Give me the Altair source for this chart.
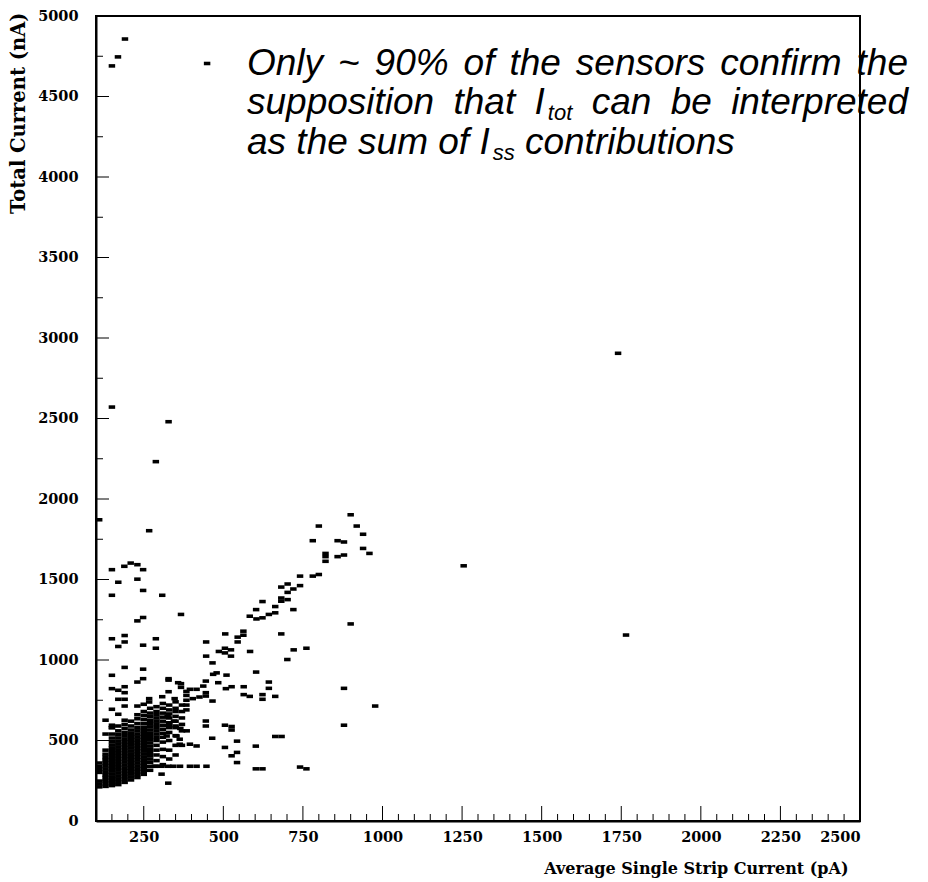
import altair as alt
import pandas as pd

# ---------------- data (Average single strip current [pA], total current [nA]) ----------------
top_x = [150, 169, 191, 449]
top_y = [4690, 4746, 4857, 4705]

single_x = [150, 328, 288, 110, 267, 1740, 1765, 1255, 900, 977, 879, 879]
single_y = [2571, 2480, 2232, 1871, 1803, 2905, 1155, 1585, 1224, 714, 824, 595]

left_x = [150, 189, 209, 230, 248, 170, 230, 248, 150, 308, 367, 230, 248, 190, 150, 288, 190, 170,
          248, 288, 190, 248, 150, 328, 248, 230, 328, 367, 150, 170, 190, 190]
left_y = [1561, 1582, 1602, 1592, 1561, 1483, 1502, 1432, 1402, 1402, 1283, 1243, 1264, 1152, 1132, 1132,
          1112, 1084, 1092, 1073, 954, 943, 905, 884, 884, 863, 875, 853, 822, 812, 834, 797]

arm_x = [446, 486, 505, 505, 524, 524, 446, 466, 506, 545, 545, 563, 563, 584, 603, 721, 761, 701, 682,
         583, 603, 623, 604, 623, 643, 663, 663, 682, 682, 682, 702, 702, 702, 720, 720,
         741, 741, 781, 800, 781, 800, 821, 821, 821, 859, 859, 879, 879, 900, 919, 939, 939, 959]
arm_y = [1112, 1053, 1073, 1044, 1063, 1024, 1024, 982, 1162, 1142, 1112, 1179, 1154, 1053, 925, 1063,
         1073, 1003, 1162, 1272, 1313, 1363, 1255, 1262, 1283, 1293, 1332, 1365, 1385, 1453, 1472, 1420,
         1375, 1441, 1313, 1521, 1462, 1521, 1531, 1741, 1832, 1662, 1642, 1613, 1741, 1642, 1733, 1652,
         1902, 1832, 1781, 1693, 1662]

mid_x = [479, 510, 445, 484, 508, 526, 564, 643, 643, 564, 583, 623, 623, 663, 358, 395, 416, 437, 468,
         384, 384, 384, 384, 384, 445, 445, 466, 404, 425, 445, 445, 505, 505, 465, 526, 526, 663, 683,
         543, 602, 543, 526, 543, 602, 623, 741, 761, 285, 306, 327, 343, 364, 395, 416, 447, 306, 327,
         395, 416, 363, 363, 353, 322, 330, 350, 365, 385, 345, 325]
mid_y = [920, 906, 869, 859, 822, 834, 834, 863, 824, 785, 774, 785, 756, 774, 859, 818, 818, 838, 911,
         690, 720, 750, 780, 805, 797, 776, 745, 760, 770, 621, 590, 595, 457, 514, 587, 565, 525, 525,
         496, 465, 426, 405, 363, 324, 324, 335, 324, 340, 340, 340, 340, 340, 340, 340, 340, 291, 235,
         477, 466, 477, 508, 528, 528, 600, 590, 575, 560, 620, 650]

lowleft_x = [170, 190, 150, 170, 190, 230, 250, 267, 267, 308, 328, 347, 367, 130, 190, 150, 150, 130]
lowleft_y = [756, 756, 694, 663, 714, 714, 725, 760, 739, 772, 803, 760, 830, 626, 626, 595, 580, 540]

# dense core of the distribution, column by column
core_cols = {
    110: [212, 230, 248, 302, 320, 338, 360],
    130: [215, 233, 251, 269, 287, 305, 323, 341, 359, 377, 395, 415, 440],
    150: [220, 238, 256, 274, 292, 310, 328, 346, 364, 382, 400, 418, 436, 454, 472, 492, 515, 540, 580],
    170: [226, 244, 262, 280, 298, 316, 334, 352, 370, 388, 406, 424, 442, 460, 478, 496, 516, 538,
          560, 590],
    190: [240, 258, 276, 294, 312, 330, 348, 366, 384, 402, 420, 438, 456, 474, 492, 510, 530, 550,
          575, 600],
    210: [255, 273, 291, 309, 327, 345, 363, 381, 399, 417, 435, 453, 471, 489, 507, 525, 545, 565,
          590, 620],
    230: [270, 288, 306, 324, 342, 360, 378, 396, 414, 432, 450, 468, 486, 504, 522, 540, 560, 580,
          605, 635, 660],
    250: [290, 308, 326, 344, 362, 380, 398, 416, 434, 452, 470, 488, 506, 524, 542, 562, 582, 605,
          630, 655, 680],
    270: [315, 340, 365, 385, 405, 425, 445, 465, 485, 505, 525, 545, 565, 585, 605, 625, 648, 670, 700],
    290: [340, 375, 410, 440, 470, 500, 520, 540, 560, 580, 600, 620, 640, 660, 680, 710],
    310: [350, 400, 445, 490, 520, 545, 570, 595, 620, 645, 670, 700, 730],
    330: [385, 440, 500, 550, 580, 610, 640, 665, 690, 720],
    350: [410, 470, 530, 580, 620, 650, 680, 700, 740],
    370: [470, 560, 600, 640, 680, 720],
}

x_ticks_major = [250, 500, 750, 1000, 1250, 1500, 1750, 2000, 2250, 2500]
y_ticks_major = [0, 500, 1000, 1500, 2000, 2500, 3000, 3500, 4000, 4500, 5000]

core_x, core_y = [], []
for cx, ys in core_cols.items():
    core_x += [cx] * len(ys)
    core_y += ys

xs = top_x + single_x + left_x + arm_x + mid_x + lowleft_x + core_x
ys = top_y + single_y + left_y + arm_y + mid_y + lowleft_y + core_y
df = pd.DataFrame({"iss": xs, "itot": ys})

# ---------------- layout ----------------
W, H = 764, 805
XMIN, XMAX = 100, 2500
YMIN, YMAX = 0, 5000

xs_scale = alt.Scale(domain=[XMIN, XMAX], nice=False, zero=False)
ys_scale = alt.Scale(domain=[YMIN, YMAX], nice=False, zero=False)

marker = "M-1,-0.55L1,-0.55L1,0.55L-1,0.55Z"

points = alt.Chart(df).mark_point(
    shape=marker, filled=True, color="black", size=42, opacity=1, strokeWidth=0
).encode(
    x=alt.X("iss:Q", scale=xs_scale,
            axis=alt.Axis(values=x_ticks_major, format="d", ticks=False, tickSize=0, grid=False,
                          domainColor="black", domainWidth=2,
                          labelFont="DejaVu Serif", labelFontWeight="bold", labelFontSize=14.5,
                          labelColor="black", labelPadding=9,
                          title="Average Single Strip Current (pA)",
                          titleFont="DejaVu Serif", titleFontWeight="bold", titleFontSize=16,
                          titleColor="black", titleAnchor="end", titleAlign="right",
                          titleX=752, titleY=47, titleBaseline="middle")),
    y=alt.Y("itot:Q", scale=ys_scale,
            axis=alt.Axis(values=y_ticks_major, format="d", ticks=False, tickSize=0, grid=False,
                          domainColor="black", domainWidth=2,
                          labelFont="DejaVu Serif", labelFontWeight="bold", labelFontSize=14.5,
                          labelColor="black", labelPadding=18,
                          title="Total Current (nA)",
                          titleFont="DejaVu Serif", titleFontWeight="bold", titleFontSize=19.5,
                          titleColor="black", titleAngle=-90, titleAlign="right",
                          titleBaseline="middle", titleX=-78, titleY=-4)),
)

# inward ticks
xmaj = pd.DataFrame({"v": x_ticks_major})
xmin = pd.DataFrame({"v": [v for v in range(150, 2500, 50) if v % 250 != 0]})
ymaj = pd.DataFrame({"v": y_ticks_major})
ymin = pd.DataFrame({"v": [v for v in range(250, 5000, 500)]})

tick_style = dict(color="black", strokeWidth=1)
xt_major = alt.Chart(xmaj).mark_rule(**tick_style).encode(
    x=alt.X("v:Q", scale=xs_scale), y=alt.value(H), y2=alt.value(H - 15))
xt_minor = alt.Chart(xmin).mark_rule(**tick_style).encode(
    x=alt.X("v:Q", scale=xs_scale), y=alt.value(H), y2=alt.value(H - 7))
yt_major = alt.Chart(ymaj).mark_rule(**tick_style).encode(
    y=alt.Y("v:Q", scale=ys_scale), x=alt.value(0), x2=alt.value(13))
yt_minor = alt.Chart(ymin).mark_rule(**tick_style).encode(
    y=alt.Y("v:Q", scale=ys_scale), x=alt.value(0), x2=alt.value(7))

# ---------------- annotation text (justified like the original slide) ----------------
AW = {' ': 278, '~': 584, '%': 889, '0': 556, '9': 556, 'O': 778, 'I': 278, 'a': 556, 'b': 556,
      'c': 500, 'd': 556, 'e': 556, 'f': 278, 'h': 556, 'i': 222, 'l': 222, 'm': 833, 'n': 556,
      'o': 556, 'p': 556, 'r': 333, 's': 500, 't': 278, 'u': 556, 'y': 500}
FS, SFS, SUB_DY, SUB_GAP = 37, 22, 6, 3


def tw(s, size):
    return sum(AW.get(c, 556) for c in s) * size / 1000


lines = [
    [[("Only", 0)], [("~", 0)], [("90%", 0)], [("of", 0)], [("the", 0)], [("sensors", 0)],
     [("confirm", 0)], [("the", 0)]],
    [[("supposition", 0)], [("that", 0)], [("I", 0), ("tot", 1)], [("can", 0)], [("be", 0)],
     [("interpreted", 0)]],
    [[("as", 0)], [("the", 0)], [("sum", 0)], [("of", 0)], [("I", 0), ("ss", 1)],
     [("contributions", 0)]],
]
justify = [True, True, False]
baselines = [59, 98, 138]
LEFT, RIGHT = 151, 812


def piece_w(t, s):
    return tw(t, SFS if s else FS) + (SUB_GAP if s else 0)


rows = []
for words, just, base in zip(lines, justify, baselines):
    widths = [sum(piece_w(t, s) for t, s in w) for w in words]
    if just:
        gap = (RIGHT - LEFT - sum(widths)) / (len(words) - 1)
    else:
        gap = tw(" ", FS)
    cx = LEFT
    for w, wd in zip(words, widths):
        px = cx
        for t, s in w:
            size = SFS if s else FS
            if s:
                px += SUB_GAP
            py = base + (SUB_DY if s else 0)
            rows.append({"tx": XMIN + px / W * (XMAX - XMIN),
                         "ty": YMAX - py / H * (YMAX - YMIN),
                         "txt": t, "fs": size})
            px += tw(t, size)
        cx += wd + gap

tdf = pd.DataFrame(rows)
text = alt.Chart(tdf).mark_text(
    align="left", baseline="alphabetic", font="Liberation Sans", fontStyle="italic", color="black"
).encode(
    x=alt.X("tx:Q", scale=xs_scale),
    y=alt.Y("ty:Q", scale=ys_scale),
    text="txt:N",
    size=alt.Size("fs:Q", scale=None, legend=None),
)

chart = alt.layer(points, xt_major, xt_minor, yt_major, yt_minor, text).properties(
    width=W, height=H,
    autosize=alt.AutoSizeParams(type="none"),
    padding={"left": 96, "top": 16, "right": 68, "bottom": 61},
    background="white",
).configure_view(stroke="black", strokeWidth=2)

chart.save("out.html", embed_options={"renderer": "svg", "actions": False})
